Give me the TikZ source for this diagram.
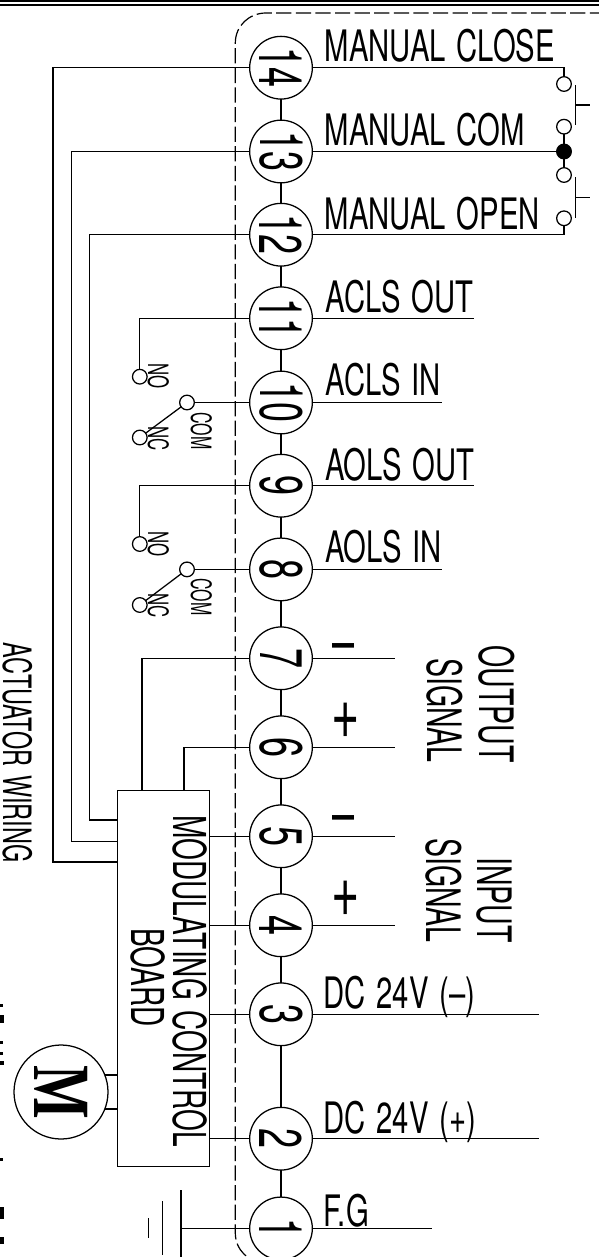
\documentclass[tikz,border=0pt]{standalone}
\usepackage{graphicx}
\usepackage{fontspec}
\setmainfont[WordSpace=1.35]{TeX Gyre Heros}
\newfontfamily\mfont{Liberation Serif}
\newcommand\txt[3]{\scalebox{#1}[1]{\fontsize{#2}{#2}\selectfont #3}}
\newcommand\dig[1]{\rotatebox{-90}{\txt{.6}{45pt}{#1}}}
\tikzset{
  wire/.style={line width=.95pt,line cap=rect},
  term/.style={circle,draw,line width=.95pt,fill=white,minimum size=47pt,inner sep=0pt},
  contact/.style={circle,draw,line width=.95pt,fill=white,minimum size=11pt,inner sep=0pt},
  dot/.style={circle,draw,line width=.95pt,fill=black,minimum size=11pt,inner sep=0pt},
  lab/.style={anchor=base west,inner sep=0pt},
  vtext/.style={rotate=-90,anchor=base west,inner sep=0pt},
  vtextend/.style={rotate=-90,anchor=base east,inner sep=0pt},
  sign/.style={anchor=base,inner sep=0pt},
  boardbox/.style={draw,line width=.95pt,fill=white,minimum width=69pt,minimum height=281.5pt,inner sep=0pt},
  frag/.style={fill=black,draw=none}
}
\begin{document}
\begin{tikzpicture}[x=.75pt,y=-.75pt]
\useasboundingbox (0,0) rectangle (599,1257);
\clip (0,0) rectangle (599,1257);
% top rule
\draw[line width=1.5pt] (0,1) -- (599,1);
\draw[line width=1.5pt] (0,4.6) -- (599,4.6);
% dashed enclosure
\draw[line width=.9pt,dash pattern=on 11.4pt off 3.3pt] (605,13) -- (266,13) .. controls (249,13) and (235.3,26) .. (235.3,43) -- (235.3,1233) .. controls (235.3,1250) and (249,1263) .. (266,1263) -- (605,1263);
% board
\node[boardbox] (board) at (163.3,978.5) {};
% terminals
\node[term] (t14) at (281,67.7) {\dig{14}};
\node[term] (t13) at (281,151.5) {\dig{13}};
\node[term] (t12) at (281,234.7) {\dig{12}};
\node[term] (t11) at (281,318.3) {\dig{11}};
\node[term] (t10) at (281,402.5) {\dig{10}};
\node[term] (t9) at (281,485.7) {\dig{9}};
\node[term] (t8) at (281,569.4) {\dig{8}};
\node[term] (t7) at (281,658.3) {\dig{7}};
\node[term] (t6) at (281,747.3) {\dig{6}};
\node[term] (t5) at (281,836.3) {\dig{5}};
\node[term] (t4) at (281,925.3) {\dig{4}};
\node[term] (t3) at (281,1014.3) {\dig{3}};
\node[term] (t2) at (281,1138.7) {\dig{2}};
\node[term] (t1) at (281,1228.4) {\dig{1}};
% terminal chain
\draw[wire] (t14) -- (t13);
\draw[wire] (t13) -- (t12);
\draw[wire] (t12) -- (t11);
\draw[wire] (t11) -- (t10);
\draw[wire] (t10) -- (t9);
\draw[wire] (t9) -- (t8);
\draw[wire] (t8) -- (t7);
\draw[wire] (t7) -- (t6);
\draw[wire] (t6) -- (t5);
\draw[wire] (t5) -- (t4);
\draw[wire] (t4) -- (t3);
\draw[wire] (t3) -- (t2);
\draw[wire] (t2) -- (t1);
% manual switches
\node[contact] (s1) at (564,84) {};
\node[contact] (s2) at (564,126.7) {};
\node[dot] (sd) at (564,151.5) {};
\node[contact] (s3) at (564,175) {};
\node[contact] (s4) at (564,218.3) {};
\draw[wire] (t14.east) -| (s1.north);
\draw[wire] (t13.east) -- (sd);
\draw[wire] (t12.east) -| (s4.south);
\draw[wire] (s2) -- (sd);
\draw[wire] (sd) -- (s3);
\draw[line width=.95pt] (575.6,85) -- (575.6,125) (575.6,105) -- (590,105);
\draw[line width=.95pt] (575.6,177) -- (575.6,218) (575.6,197.7) -- (590,197.7);
% right leads
\coordinate (e11) at (473,318.3);
\coordinate (e10) at (441,402.5);
\coordinate (e9) at (473,485.7);
\coordinate (e8) at (441,569.4);
\coordinate (e7) at (394.6,658.3);
\coordinate (e6) at (394.6,747.3);
\coordinate (e5) at (394.6,836.3);
\coordinate (e4) at (394.6,925.3);
\coordinate (e3) at (538.6,1014.3);
\coordinate (e2) at (538.6,1138.7);
\coordinate (e1) at (431.6,1228.4);
\foreach \n in {11,10,9,8,7,6,5,4,3,2,1} {\draw[wire] (t\n.east) -- (e\n);}
% limit switches
\node[contact] (no1) at (139.8,376.7) {};
\node[contact] (com1) at (187,402.5) {};
\node[contact] (nc1) at (139.8,437.5) {};
\node[contact] (no2) at (139.8,544) {};
\node[contact] (com2) at (187,569.4) {};
\node[contact] (nc2) at (139.8,605) {};
\draw[wire] (t11.west) -| (no1.north);
\draw[wire] (t10.west) -- (com1);
\draw[wire] (com1) -- (nc1);
\draw[wire] (t9.west) -| (no2.north);
\draw[wire] (t8.west) -- (com2);
\draw[wire] (com2) -- (nc2);
% wires to board
\coordinate (j14) at (53,67.7);
\coordinate (j13) at (71.8,151.5);
\coordinate (j12) at (89.4,234.7);
\coordinate (b14) at (board.west |- 0,862);
\coordinate (b13) at (board.west |- 0,841.7);
\coordinate (b12) at (board.west |- 0,820);
\coordinate (b7) at (142,790.7);
\coordinate (b6) at (184,790.7);
\draw[wire] (t14.west) -- (j14) |- (b14);
\draw[wire] (t13.west) -- (j13) |- (b13);
\draw[wire] (t12.west) -- (j12) |- (b12);
\draw[wire] (t7.west) -| (b7);
\draw[wire] (t6.west) -| (b6);
\draw[wire] (t5.west) -- (t5.west -| board.east);
\draw[wire] (t4.west) -- (t4.west -| board.east);
\draw[wire] (t3.west) -- (t3.west -| board.east);
\draw[wire] (t2.west) -- (t2.west -| board.east);
% motor
\node[circle,draw,line width=.95pt,minimum size=70.5pt,inner sep=0pt] (motor) at (61,1092) {\rotatebox{-90}{\scalebox{.7}[1]{\fontsize{61pt}{61pt}\selectfont\mfont\bfseries M}}};
\draw[wire] (motor.21) -- (motor.21 -| board.west);
\draw[wire] (motor.-21) -- (motor.-21 -| board.west);
% ground
\coordinate (g1) at (181,1228.4);
\draw[wire] (t1.west) -- (g1);
\draw[line width=.95pt] (181,1190) -- (181,1266);
\draw[line width=.95pt] (162.7,1201) -- (162.7,1255);
\draw[line width=.95pt] (148.7,1218) -- (148.7,1238);
% labels
\node[lab] (l14) at (324.7,61) {\txt{.675}{32.5pt}{MANUAL CLOSE}};
\node[lab] (l13) at (324.7,145) {\txt{.675}{32.5pt}{MANUAL COM}};
\node[lab] (l12) at (324.7,229) {\txt{.675}{32.5pt}{MANUAL OPEN}};
\node[lab] (l11) at (325.5,312) {\txt{.675}{32.5pt}{ACLS OUT}};
\node[lab] (l10) at (325.5,395) {\txt{.675}{32.5pt}{ACLS IN}};
\node[lab] (l9) at (325,480) {\txt{.675}{32.5pt}{AOLS OUT}};
\node[lab] (l8) at (325,562) {\txt{.675}{32.5pt}{AOLS IN}};
\node[lab] (l3) at (323,1008) {\txt{.675}{32.5pt}{DC 24V (–)}};
\node[lab] (l2) at (323,1133.7) {\txt{.675}{32.5pt}{DC 24V (+)}};
\node[lab] (l1) at (323,1226) {\txt{.675}{32.5pt}{F.G}};
% signs
\node[sign] (m7) at (344,663) {\txt{.62}{48pt}{–}};
\node[sign] (p6) at (345.7,738) {\txt{.65}{56pt}{+}};
\node[sign] (m5) at (344,835) {\txt{.62}{48pt}{–}};
\node[sign] (p4) at (345.7,916) {\txt{.65}{56pt}{+}};
% rotated captions
\node[vtextend] (o1) at (479.4,763) {\txt{.6}{35.6pt}{OUTPUT}};
\node[vtextend] (o2) at (427.8,763) {\txt{.6}{35.6pt}{SIGNAL}};
\node[vtextend] (i1) at (477.5,943) {\txt{.6}{35.6pt}{INPUT}};
\node[vtextend] (i2) at (426,943) {\txt{.6}{35.6pt}{SIGNAL}};
\node[vtext] (aw) at (3,642) {\txt{.6}{29.3pt}{ACTUATOR WIRING}};
\node[vtext] (mc) at (173.8,815) {\txt{.618}{34pt}{MODULATING CONTROL}};
\node[vtext] (bd) at (131.8,928) {\txt{.618}{34pt}{BOARD}};
\node[vtext] (lno1) at (148,363) {\txt{.6}{21pt}{NO}};
\node[vtext] (lcom1) at (191,412) {\txt{.57}{21pt}{COM}};
\node[vtext] (lnc1) at (148,426) {\txt{.6}{21pt}{NC}};
\node[vtext] (lno2) at (148,531) {\txt{.6}{21pt}{NO}};
\node[vtext] (lcom2) at (191,578) {\txt{.57}{21pt}{COM}};
\node[vtext] (lnc2) at (148,593) {\txt{.6}{21pt}{NC}};
% clipped marks at the left edge
\fill[frag] (0,1003.5) rectangle (3,1007);
\fill[frag] (0,1015) rectangle (3.5,1023);
\fill[frag] (0,1041) rectangle (2.5,1044);
\fill[frag] (0,1052) rectangle (3,1055);
\fill[frag] (0,1061) rectangle (3.5,1065);
\fill[frag] (0,1158) rectangle (3,1161);
\fill[frag] (0,1207) rectangle (3.5,1219);
\fill[frag] (0,1237) rectangle (3.5,1244);
\end{tikzpicture}
\end{document}
